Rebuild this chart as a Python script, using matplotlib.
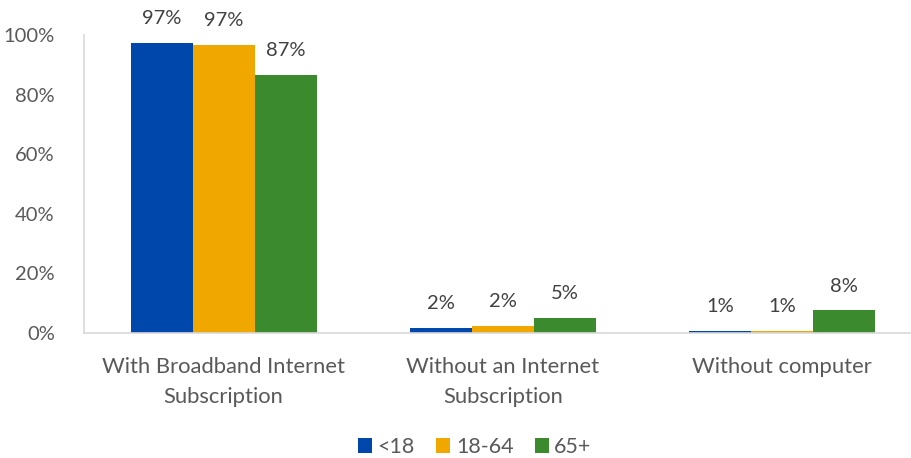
import numpy as np
import matplotlib.pyplot as plt

# internet / computer access by age group (percent)
categories = ["With Broadband Internet\nSubscription", "Without an Internet\nSubscription", "Without computer"]
groups = ["<18", "18-64", "65+"]
under18 = [97.4, 1.7, 0.6]
age18_64 = [96.6, 2.3, 0.8]
over65 = [86.7, 5.2, 7.6]
colors = ["#0047AB", "#F0A800", "#3C8A2E"]

plt.rcParams["font.family"] = ["Lato", "DejaVu Sans"]
txt = "#595959"

fig = plt.figure(figsize=(9.12, 4.58), dpi=100)
ax = fig.add_axes([84 / 912, 1 - 333 / 458, 1 - 84 / 912, (333 - 35) / 458])

x = np.arange(len(categories))
w = 0.222
series = [under18, age18_64, over65]
for i, (vals, name, c) in enumerate(zip(series, groups, colors)):
    bars = ax.bar(x + (i - 1) * w, vals, w, color=c, label=name)
    for b, v in zip(bars, vals):
        ax.text(b.get_x() + b.get_width() / 2, v + 5.3, f"{v:.0f}%",
                ha="center", va="bottom", fontsize=14.5, color="#404040")

ax.set_xlim(-0.5, 2.466)
ax.set_ylim(0, 100)
ax.set_yticks(np.arange(0, 101, 20))
ax.set_yticklabels([f"{t}%" for t in range(0, 101, 20)])
ax.set_xticks(x)
ax.set_xticklabels(categories, linespacing=1.62)
ax.tick_params(axis="both", length=0, labelcolor=txt)
ax.tick_params(axis="y", labelsize=14.5, pad=21)
ax.tick_params(axis="x", labelsize=15.8, pad=17)

for s in ["top", "right"]:
    ax.spines[s].set_visible(False)
ax.spines["left"].set_color("#D9D9D9")
ax.spines["bottom"].set_color("#D9D9D9")
ax.spines["left"].set_linewidth(1.2)
ax.spines["bottom"].set_linewidth(1.2)

fig.legend(loc="center", bbox_to_anchor=(475 / 912, 1 - 447 / 458), ncol=3, frameon=False,
           fontsize=15.5, labelcolor=txt, handlelength=0.65, handleheight=0.65,
           handletextpad=0.25, columnspacing=1.0)

fig.savefig("out.png", dpi=100)
